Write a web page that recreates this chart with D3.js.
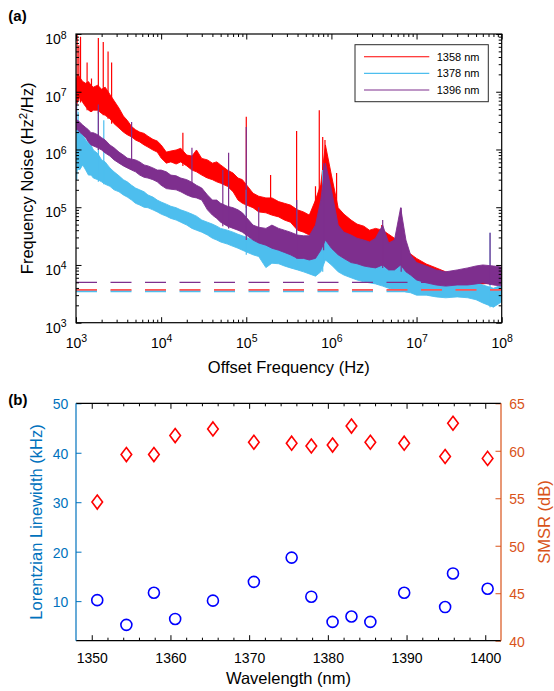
<!DOCTYPE html>
<html>
<head>
<meta charset="utf-8">
<script src="https://cdn.jsdelivr.net/npm/d3@7"></script>
<style>
  body { margin: 0; background: #fff; }
  svg { display: block; font-family: "Liberation Sans", Arial, Helvetica, sans-serif; }
</style>
</head>
<body>
<svg id="chart" width="554" height="691"></svg>
<script>
const offsetHz = [
  1.0e3, 1.05e3, 1.1e3, 1.2e3, 1.3e3, 1.4e3, 1.5e3, 1.6e3, 1.8e3, 2.0e3, 2.2e3, 2.5e3, 2.8e3, 3.2e3, 3.6e3, 4.0e3, 4.5e3, 5.0e3, 5.6e3, 6.3e3, 7.0e3, 8.0e3, 9.0e3,
  1.0e4, 1.15e4, 1.3e4, 1.5e4, 1.7e4, 2.0e4, 2.3e4, 2.6e4, 3.0e4, 3.5e4, 4.0e4, 4.5e4, 5.0e4, 6.0e4, 7.0e4, 8.0e4, 9.0e4,
  1.2e5, 1.4e5, 1.7e5, 2.0e5, 2.4e5, 2.8e5, 3.3e5, 4.0e5, 4.7e5, 5.5e5, 6.5e5, 7.5e5, 8.5e5,
  1.0e6, 1.2e6, 1.4e6, 1.7e6, 2.0e6, 2.4e6, 2.8e6, 3.3e6, 4.0e6, 4.7e6, 5.5e6, 6.5e6, 7.5e6, 8.5e6,
  1.0e7, 1.3e7, 1.7e7, 2.2e7, 3.0e7, 4.0e7, 5.0e7, 6.0e7, 8.0e7, 1.0e8
];

const noise1358Hi = [
  1.6e7, 2.0e7, 1.8e7, 1.5e7, 1.4e7, 1.5e7, 1.3e7, 1.2e7, 1.3e7, 1.1e7, 1.2e7, 9.0e6, 7.0e6, 5.2e6, 3.8e6, 3.2e6, 2.5e6, 2.2e6, 2.0e6, 1.9e6, 1.7e6, 1.5e6, 1.4e6,
  1.2e6, 9.0e5, 9.4e5, 9.8e5, 1.05e6, 8.0e5, 7.7e5, 9.8e5, 7.0e5, 6.6e5, 5.8e5, 6.1e5, 5.4e5, 4.4e5, 3.9e5, 3.2e5, 3.0e5,
  1.75e5, 1.55e5, 1.45e5, 1.45e5, 1.25e5, 1.17e5, 1.09e5, 9.0e4, 8.3e4, 7.3e4, 1.33e5, 2.5e5, 1.2e6,
  3.6e5, 9.8e4, 7.6e4, 6.0e4, 5.1e4, 4.7e4, 4.0e4, 4.3e4, 4.0e4, 3.4e4, 2.9e4, 2.7e4, 1.8e4, 1.55e4,
  1.3e4, 1.04e4, 8.9e3, 7.6e3, 7.0e3, 7.0e3, 7.2e3, 7.6e3, 7.9e3, 7.6e3
];
const noise1358Lo = [
  6.0e6, 7.0e6, 8.0e6, 6.5e6, 5.5e6, 4.8e6, 4.5e6, 4.8e6, 4.8e6, 4.2e6, 3.9e6, 3.4e6, 2.8e6, 2.35e6, 2.0e6, 1.8e6, 1.65e6, 1.46e6, 1.35e6, 1.2e6, 1.1e6, 9.8e5, 9.0e5,
  7.1e5, 5.8e5, 6.1e5, 5.6e5, 6.1e5, 5.2e5, 4.4e5, 4.1e5, 3.6e5, 3.2e5, 3.0e5, 2.75e5, 2.6e5, 2.3e5, 1.85e5, 1.33e5, 1.17e5,
  9.8e4, 8.3e4, 8.0e4, 7.3e4, 6.8e4, 6.0e4, 5.5e4, 4.0e4, 3.7e4, 3.3e4, 3.3e4, 4.5e4, 6.4e4,
  4.0e4, 2.9e4, 2.4e4, 1.95e4, 1.8e4, 1.65e4, 1.5e4, 1.5e4, 1.6e4, 1.4e4, 1.22e4, 1.1e4, 9.6e3, 8.8e3,
  8.2e3, 6.7e3, 6.0e3, 5.3e3, 4.9e3, 4.7e3, 4.7e3, 4.7e3, 4.9e3, 4.9e3
];

const noise1378Hi = [
  2.5e6, 2.2e6, 2.0e6, 1.8e6, 1.46e6, 1.3e6, 1.2e6, 9.8e5, 8.5e5, 6.6e5, 6.1e5, 4.8e5, 4.1e5, 3.5e5, 3.0e5, 2.75e5, 2.4e5, 2.15e5, 2.0e5, 1.85e5, 1.63e5, 1.5e5, 1.33e5,
  1.23e5, 1.13e5, 1.04e5, 9.8e4, 9.0e4, 8.3e4, 7.6e4, 7.0e4, 6.0e4, 5.5e4, 5.1e4, 4.7e4, 4.3e4, 4.0e4, 3.7e4, 3.4e4, 3.2e4,
  2.7e4, 2.5e4, 2.3e4, 2.2e4, 2.1e4, 1.95e4, 1.8e4, 1.65e4, 1.55e4, 1.5e4, 1.8e4, 4.0e4, 9.0e4,
  3.3e4, 1.5e4, 1.3e4, 1.1e4, 1.05e4, 1.0e4, 1.0e4, 9.6e3, 1.3e4, 8.9e3, 8.2e3, 1.1e4, 7.6e3, 7.0e3,
  6.4e3, 6.0e3, 5.5e3, 5.3e3, 5.5e3, 5.3e3, 4.9e3, 4.5e3, 3.95e3, 4.5e3
];
const noise1378Lo = [
  3.0e5, 5.4e5, 4.4e5, 5.4e5, 4.4e5, 3.6e5, 3.6e5, 3.2e5, 3.0e5, 2.75e5, 2.5e5, 2.3e5, 2.0e5, 1.85e5, 1.63e5, 1.5e5, 1.33e5, 1.17e5, 1.09e5, 1.0e5, 9.8e4, 9.0e4, 8.3e4,
  7.6e4, 7.0e4, 6.4e4, 6.0e4, 5.5e4, 4.9e4, 4.3e4, 4.0e4, 3.7e4, 3.3e4, 2.9e4, 2.7e4, 2.5e4, 2.3e4, 2.1e4, 1.95e4, 1.8e4,
  1.5e4, 1.4e4, 9.0e3, 1.07e4, 1.05e4, 9.6e3, 8.9e3, 8.2e3, 7.6e3, 7.0e3, 6.4e3, 7.6e3, 1.22e4,
  1.0e4, 7.6e3, 6.7e3, 6.0e3, 5.5e3, 5.1e3, 4.9e3, 4.7e3, 4.3e3, 3.95e3, 3.7e3, 3.7e3, 3.4e3, 3.3e3,
  3.0e3, 3.0e3, 2.8e3, 2.7e3, 2.8e3, 2.7e3, 2.5e3, 2.2e3, 1.86e3, 2.3e3
];

const noise1396Hi = [
  3.2e6, 3.2e6, 3.0e6, 2.65e6, 2.4e6, 2.2e6, 1.95e6, 1.95e6, 1.8e6, 1.6e6, 1.46e6, 1.2e6, 1.07e6, 9.0e5, 8.0e5, 7.1e5, 6.8e5, 6.6e5, 6.1e5, 5.4e5, 5.2e5, 4.8e5, 4.4e5,
  4.4e5, 4.1e5, 3.6e5, 3.5e5, 3.2e5, 3.0e5, 2.7e5, 2.4e5, 2.15e5, 1.63e5, 1.33e5, 1.33e5, 1.17e5, 1.04e5, 9.8e4, 9.0e4, 8.0e4,
  4.9e4, 4.5e4, 4.3e4, 4.9e4, 4.3e4, 4.0e4, 3.7e4, 3.3e4, 3.2e4, 3.2e4, 4.9e4, 1.33e5, 5.8e5,
  2.0e5, 4.9e4, 3.7e4, 3.3e4, 2.9e4, 2.7e4, 2.5e4, 2.9e4, 4.9e4, 2.4e4, 2.7e4, 9.8e4, 2.7e4, 1.5e4,
  1.1e4, 9.6e3, 8.2e3, 7.6e3, 8.2e3, 8.9e3, 9.6e3, 1.0e4, 9.6e3, 9.2e3
];
const noise1396Lo = [
  2.2e6, 2.2e6, 2.0e6, 1.8e6, 1.6e6, 1.35e6, 1.2e6, 1.15e6, 1.07e6, 9.8e5, 8.7e5, 7.7e5, 6.6e5, 5.8e5, 5.2e5, 4.8e5, 4.4e5, 4.1e5, 3.6e5, 3.3e5, 3.2e5, 3.0e5, 2.75e5,
  2.4e5, 2.1e5, 2.05e5, 2.0e5, 1.85e5, 1.63e5, 1.5e5, 1.45e5, 1.33e5, 9.0e4, 7.3e4, 6.4e4, 5.5e4, 4.7e4, 4.3e4, 4.0e4, 3.7e4,
  2.7e4, 2.4e4, 2.2e4, 1.95e4, 1.8e4, 1.65e4, 1.5e4, 1.3e4, 1.3e4, 1.22e4, 1.3e4, 1.8e4, 2.7e4,
  1.95e4, 1.5e4, 1.3e4, 1.1e4, 1.05e4, 9.6e3, 9.2e3, 8.9e3, 1.0e4, 8.2e3, 8.2e3, 1.0e4, 7.6e3, 6.7e3,
  5.5e3, 4.9e3, 4.5e3, 4.3e3, 4.5e3, 4.5e3, 4.7e3, 4.9e3, 4.5e3, 4.3e3
];

// narrow spurs: [frequency (Hz), peak (Hz^2/Hz)]
const spikes1358 = [
  [1.03e3, 1.0e8], [1.08e3, 6.4e7], [1.13e3, 9.0e7], [1.35e3, 3.2e7], [1.52e3, 1.7e7], [1.83e3, 8.5e7],
  [2.09e3, 7.3e7], [2.38e3, 5.0e7], [2.62e3, 3.2e7], [1.8e4, 1.95e6], [3.4e4, 5.8e5], [1.0e5, 3.7e6],
  [1.93e5, 3.6e5], [3.9e5, 2.1e6], [6.5e5, 2.3e5], [7.2e5, 4.8e6], [7.9e5, 1.65e6], [8.4e5, 1.46e6],
  [1.15e6, 3.9e5], [3.9e6, 4.9e4]
];
const spikes1378 = [
  [1.02e3, 6.3e6], [1.06e3, 4.5e6], [1.83e3, 4.5e6], [2.12e3, 3.2e6], [1.0e5, 2.0e5], [3.9e5, 1.33e5],
  [7.9e5, 4.4e5], [7.3e7, 3.6e4]
];
const spikes1396 = [
  [1.01e3, 6.5e6], [1.83e3, 6.0e6], [4.5e3, 3.0e6], [2.3e4, 1.07e6], [5.3e4, 4.4e5], [6.2e4, 8.8e5],
  [1.0e5, 2.45e6], [1.4e5, 1.0e5], [3.9e5, 1.33e5], [8.1e5, 5.8e5], [4.0e6, 6.0e4], [6.6e6, 9.8e4],
  [7.3e7, 3.6e4]
];

// dashed reference levels (Hz^2/Hz)
const floor1358 = 3.7e3;
const floor1378 = 3.5e3;
const floor1396 = 5.0e3;

const legendLabels = ['1358 nm', '1378 nm', '1396 nm'];

// ---- panel (b): linewidth and SMSR vs wavelength ----
const wavelengthNm = [1350.7, 1354.4, 1357.9, 1360.6, 1365.4, 1370.6, 1375.4, 1377.9, 1380.6, 1383.0, 1385.4, 1389.7, 1394.9, 1395.9, 1400.3];
const linewidthKHz = [10.2, 5.2, 11.7, 6.4, 10.1, 13.9, 18.8, 10.9, 5.8, 6.9, 5.8, 11.7, 8.8, 15.6, 12.5];
const smsrDb = [54.6, 59.6, 59.6, 61.6, 62.3, 60.9, 60.8, 60.5, 60.6, 62.6, 60.9, 60.8, 59.4, 62.9, 59.2];

const svg = d3.select('#chart');
const RED = '#ff0000', SKY = '#4dbeee', PURPLE = '#7e2f8e';
const LEFTBLUE = '#0072bd', RIGHTORANGE = '#d95319';

// =========================== panel (a) ===========================
const A = { left: 76, right: 501.7, top: 34, bottom: 322.7 };
const xA = d3.scaleLog().domain([1e3, 1e8]).range([A.left, A.right]);
const yA = d3.scaleLog().domain([1e3, 1e8]).range([A.bottom, A.top]);

const series = [
  { label: legendLabels[0], color: RED, hi: noise1358Hi, lo: noise1358Lo, spikes: spikes1358 },
  { label: legendLabels[1], color: SKY, hi: noise1378Hi, lo: noise1378Lo, spikes: spikes1378 },
  { label: legendLabels[2], color: PURPLE, hi: noise1396Hi, lo: noise1396Lo, spikes: spikes1396 }
];

svg.append('clipPath').attr('id', 'clipA')
  .append('rect').attr('x', A.left).attr('y', A.top)
  .attr('width', A.right - A.left).attr('height', A.bottom - A.top);

const plotA = svg.append('g').attr('clip-path', 'url(#clipA)');

const band = d3.area()
  .x(d => xA(d.f)).y0(d => yA(d.lo)).y1(d => yA(d.hi));

const bisect = d3.bisector(d => d).left;

series.forEach(s => {
  const pts = offsetHz.map((f, i) => ({ f, lo: s.lo[i], hi: s.hi[i] }));
  const g = plotA.append('g');
  g.append('path').datum(pts)
    .attr('d', band)
    .attr('fill', s.color).attr('stroke', s.color)
    .attr('stroke-width', 0.9).attr('stroke-linejoin', 'round');

  // spurs rise from the local band floor
  g.selectAll('line.spur').data(s.spikes).enter().append('line')
    .attr('class', 'spur')
    .attr('x1', d => xA(d[0])).attr('x2', d => xA(d[0]))
    .attr('y1', d => {
      const i = Math.min(Math.max(bisect(offsetHz, d[0]), 1), offsetHz.length - 1);
      return yA(Math.min(s.lo[i], s.lo[i - 1]));
    })
    .attr('y2', d => yA(d[1]))
    .attr('stroke', s.color).attr('stroke-width', 1.2);
});

// dashed levels drawn over the traces
[[floor1378, SKY, 2], [floor1358, '#f55', 1.8], [floor1396, PURPLE, 1.2]].forEach(([v, c, w]) => {
  plotA.append('line')
    .attr('x1', A.left).attr('x2', A.right)
    .attr('y1', yA(v)).attr('y2', yA(v))
    .attr('stroke', c).attr('stroke-width', w)
    .attr('stroke-dasharray', '21,13.5');
});

// axes (ticks inward, matlab style)
const decades = [1e3, 1e4, 1e5, 1e6, 1e7, 1e8];
const minorLog = [];
decades.slice(0, -1).forEach(d => { for (let k = 2; k <= 9; k++) minorLog.push(d * k); });

function supLabels(sel) {
  sel.selectAll('.tick text').each(function (d) {
    const t = d3.select(this);
    t.text(null);
    t.append('tspan').text('10');
    t.append('tspan').attr('dy', -5.5).attr('font-size', 10.5).text(Math.round(Math.log10(d)));
  });
}

function styleAxis(g, color) {
  g.select('.domain').remove();
  g.selectAll('.tick line').attr('stroke', color).attr('stroke-width', 1);
  g.selectAll('.tick text').attr('fill', color)
    .attr('font-family', '"Liberation Sans", Arial, sans-serif').attr('font-size', 14);
}

const axA = svg.append('g');
const gxA = axA.append('g').attr('transform', `translate(0,${A.bottom})`)
  .call(d3.axisBottom(xA).tickValues(decades).tickSize(-5.5).tickPadding(15).tickFormat(d => d));
styleAxis(gxA, '#000'); supLabels(gxA);
axA.append('g').attr('transform', `translate(0,${A.bottom})`)
  .call(d3.axisBottom(xA).tickValues(minorLog).tickSize(-3).tickFormat(''))
  .call(g => styleAxis(g, '#000'));
axA.append('g').attr('transform', `translate(0,${A.top})`)
  .call(d3.axisTop(xA).tickValues(decades).tickSize(-5.5).tickFormat(''))
  .call(g => styleAxis(g, '#000'));
axA.append('g').attr('transform', `translate(0,${A.top})`)
  .call(d3.axisTop(xA).tickValues(minorLog).tickSize(-3).tickFormat(''))
  .call(g => styleAxis(g, '#000'));

const gyA = axA.append('g').attr('transform', `translate(${A.left},0)`)
  .call(d3.axisLeft(yA).tickValues(decades).tickSize(-5.5).tickPadding(9.3).tickFormat(d => d));
styleAxis(gyA, '#000'); supLabels(gyA);
gyA.selectAll('.tick text').attr('dy', 9.5);
axA.append('g').attr('transform', `translate(${A.left},0)`)
  .call(d3.axisLeft(yA).tickValues(minorLog).tickSize(-3).tickFormat(''))
  .call(g => styleAxis(g, '#000'));
axA.append('g').attr('transform', `translate(${A.right},0)`)
  .call(d3.axisRight(yA).tickValues(decades).tickSize(-5.5).tickFormat(''))
  .call(g => styleAxis(g, '#000'));
axA.append('g').attr('transform', `translate(${A.right},0)`)
  .call(d3.axisRight(yA).tickValues(minorLog).tickSize(-3).tickFormat(''))
  .call(g => styleAxis(g, '#000'));

svg.append('rect')
  .attr('x', A.left).attr('y', A.top)
  .attr('width', A.right - A.left).attr('height', A.bottom - A.top)
  .attr('fill', 'none').attr('stroke', '#000').attr('stroke-width', 1.2);

// legend
const lg = svg.append('g');
lg.append('rect').attr('x', 355).attr('y', 44.7).attr('width', 133.3).attr('height', 57)
  .attr('fill', '#fff').attr('stroke', '#2b2b2b').attr('stroke-width', 1);
series.forEach((s, i) => {
  const yy = 56.7 + i * 16.65;
  lg.append('line').attr('x1', 364).attr('x2', 429.3).attr('y1', yy).attr('y2', yy)
    .attr('stroke', s.color).attr('stroke-width', 1.1);
  lg.append('text').attr('x', 436.7).attr('y', yy + 4).attr('font-size', 11)
    .attr('fill', '#000').text(s.label);
});

// labels
svg.append('text').attr('x', 8.3).attr('y', 20.5).attr('font-size', 15).attr('font-weight', 'bold').text('(a)');
svg.append('text').attr('x', (A.left + A.right) / 2).attr('y', 372.5).attr('text-anchor', 'middle')
  .attr('font-size', 16.5).text('Offset Frequency (Hz)');
const ylabA = svg.append('text').attr('transform', `translate(33,${(A.top + A.bottom) / 2}) rotate(-90)`)
  .attr('text-anchor', 'middle').attr('font-size', 16.5);
ylabA.append('tspan').text('Frequency Noise (Hz');
ylabA.append('tspan').attr('dy', -6).attr('font-size', 11.5).text('2');
ylabA.append('tspan').attr('dy', 6).text('/Hz)');

// =========================== panel (b) ===========================
const B = { left: 76, right: 501, top: 403.3, bottom: 640.7 };
const xB = d3.scaleLinear().domain([1348, 1402]).range([B.left, B.right]);
const yL = d3.scaleLinear().domain([2, 50]).range([B.bottom, B.top]);
const yR = d3.scaleLinear().domain([40, 65]).range([B.bottom, B.top]);

const majorNm = d3.range(1350, 1401, 10);
const minorNm = d3.range(1350, 1401, 2).filter(v => v % 10 !== 0);

const axB = svg.append('g');
const gxB = axB.append('g').attr('transform', `translate(0,${B.bottom})`)
  .call(d3.axisBottom(xB).tickValues(majorNm).tickSize(-5.5).tickPadding(12.3).tickFormat(d3.format('d')));
styleAxis(gxB, '#000');
axB.append('g').attr('transform', `translate(0,${B.bottom})`)
  .call(d3.axisBottom(xB).tickValues(minorNm).tickSize(-3).tickFormat(''))
  .call(g => styleAxis(g, '#000'));
axB.append('g').attr('transform', `translate(0,${B.top})`)
  .call(d3.axisTop(xB).tickValues(majorNm).tickSize(-5.5).tickFormat(''))
  .call(g => styleAxis(g, '#000'));
axB.append('g').attr('transform', `translate(0,${B.top})`)
  .call(d3.axisTop(xB).tickValues(minorNm).tickSize(-3).tickFormat(''))
  .call(g => styleAxis(g, '#000'));

const gyL = axB.append('g').attr('transform', `translate(${B.left},0)`)
  .call(d3.axisLeft(yL).tickValues([10, 20, 30, 40, 50]).tickSize(-5.5).tickPadding(7.7));
styleAxis(gyL, LEFTBLUE);
gyL.selectAll('.tick text').attr('dy', 5.5);
const gyR = axB.append('g').attr('transform', `translate(${B.right},0)`)
  .call(d3.axisRight(yR).tickValues([40, 45, 50, 55, 60, 65]).tickSize(-5.5).tickPadding(8.3));
styleAxis(gyR, RIGHTORANGE);
gyR.selectAll('.tick text').attr('dy', 5.5);

// frame: black top/bottom, coloured sides
axB.append('line').attr('x1', B.left).attr('x2', B.right).attr('y1', B.top).attr('y2', B.top)
  .attr('stroke', '#000').attr('stroke-width', 1.2);
axB.append('line').attr('x1', B.left).attr('x2', B.right).attr('y1', B.bottom).attr('y2', B.bottom)
  .attr('stroke', '#000').attr('stroke-width', 1.2);
axB.append('line').attr('x1', B.left).attr('x2', B.left).attr('y1', B.top).attr('y2', B.bottom)
  .attr('stroke', LEFTBLUE).attr('stroke-width', 1.2);
axB.append('line').attr('x1', B.right).attr('x2', B.right).attr('y1', B.top).attr('y2', B.bottom)
  .attr('stroke', RIGHTORANGE).attr('stroke-width', 1.2);

// markers
const ptsB = wavelengthNm.map((w, i) => ({ w, lw: linewidthKHz[i], smsr: smsrDb[i] }));
svg.append('g').selectAll('path').data(ptsB).enter().append('path')
  .attr('transform', d => `translate(${xB(d.w)},${yR(d.smsr)})`)
  .attr('d', 'M0,-7L5.3,0L0,7L-5.3,0Z')
  .attr('fill', 'none').attr('stroke', '#ff0000').attr('stroke-width', 1.6);
svg.append('g').selectAll('circle').data(ptsB).enter().append('circle')
  .attr('cx', d => xB(d.w)).attr('cy', d => yL(d.lw)).attr('r', 5.5)
  .attr('fill', 'none').attr('stroke', '#0000ff').attr('stroke-width', 1.6);

svg.append('text').attr('x', 8.3).attr('y', 404.5).attr('font-size', 15).attr('font-weight', 'bold').text('(b)');
svg.append('text').attr('x', (B.left + B.right) / 2).attr('y', 683.5).attr('text-anchor', 'middle')
  .attr('font-size', 16.5).text('Wavelength (nm)');
svg.append('text').attr('transform', `translate(41.7,${(B.top + B.bottom) / 2}) rotate(-90)`)
  .attr('text-anchor', 'middle').attr('font-size', 16.5).attr('fill', LEFTBLUE)
  .text('Lorentzian Linewidth (kHz)');
svg.append('text').attr('transform', `translate(550,${(B.top + B.bottom) / 2}) rotate(-90)`)
  .attr('text-anchor', 'middle').attr('font-size', 16.5).attr('fill', RIGHTORANGE)
  .text('SMSR (dB)');
</script>
</body>
</html>
